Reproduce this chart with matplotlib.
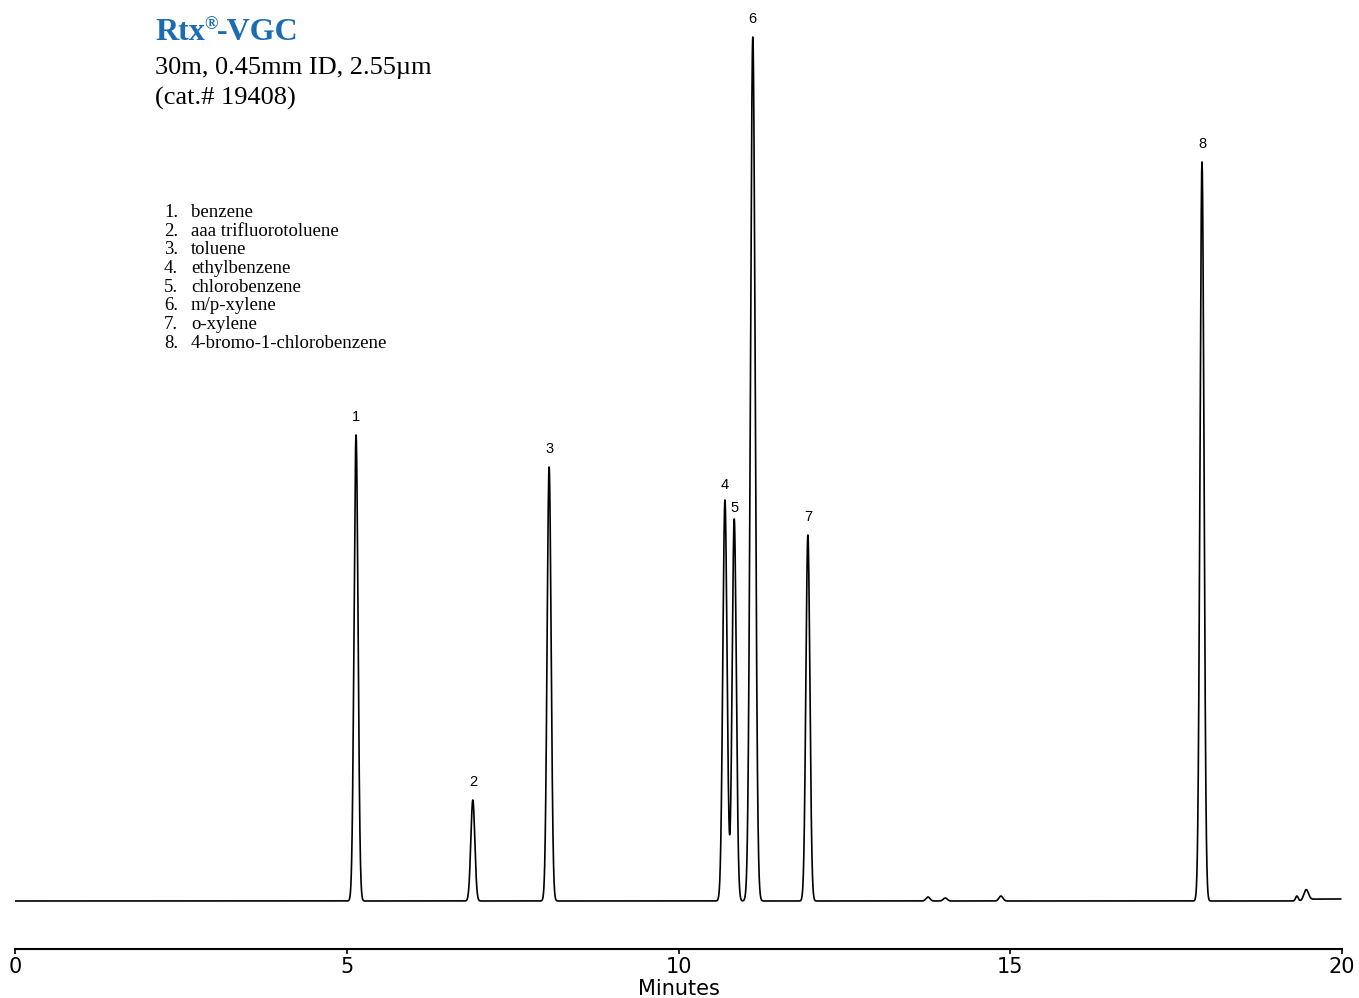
import numpy as np
import matplotlib
matplotlib.use('Agg')
from matplotlib import pyplot as plt

# peak table (retention time in min, height above baseline)
peak_ids = ['1', '2', '3', '4', '5', '6', '7', '8']
peak_rt = [5.14, 6.90, 8.05, 10.70, 10.84, 11.12, 11.95, 17.89]
peak_height = [466, 101, 434, 401, 382, 864, 366, 739]
peak_sigma = [0.030, 0.030, 0.030, 0.032, 0.031, 0.036, 0.030, 0.030]

# small unlabeled bumps
minor_rt = [13.76, 14.02, 14.86, 19.32, 19.46]
minor_height = [4, 3, 5, 5, 11]
minor_sigma = [0.03, 0.03, 0.03, 0.02, 0.035]

compounds = ['benzene', 'aaa trifluorotoluene', 'toluene', 'ethylbenzene',
             'chlorobenzene', 'm/p-xylene', 'o-xylene', '4-bromo-1-chlorobenzene']

xticks = [0, 5, 10, 15, 20]

W, H = 1359, 998
fig = plt.figure(figsize=(W / 100, H / 100), dpi=100)

# axes: x=0 at px 15, x=20 at px 1342; axis line at px 949, baseline at px 901
ax = fig.add_axes([15 / W, (H - 949) / H, (1342 - 15) / W, 949 / H])

t = np.linspace(0, 19.98, 40000)
signal = np.zeros_like(t)
for rt, h, s in zip(peak_rt + minor_rt, peak_height + minor_height, peak_sigma + minor_sigma):
    signal += h * np.exp(-0.5 * ((t - rt) / s) ** 2)
# slight baseline rise after the last bump
signal += 2.0 / (1 + np.exp(-(t - 19.5) / 0.03))

ax.plot(t, signal, color='black', lw=1.2)

label_dy = [8, 8, 8, 6, 3, 8, 8, 8]
for pid, rt, h, dy in zip(peak_ids, peak_rt, peak_height, label_dy):
    ax.annotate(pid, (rt, h), xytext=(0, dy), textcoords='offset points',
                ha='center', va='bottom', fontsize=10.5, family='Liberation Sans')

axis_font = dict(family='DejaVu Sans')

ax.set_xlim(0, 20)
ax.set_ylim(-48, 901)
for side in ['left', 'right', 'top']:
    ax.spines[side].set_visible(False)
ax.spines['bottom'].set_linewidth(1.5)
ax.set_yticks([])
ax.set_xticks(xticks)
ax.set_xticklabels([str(v) for v in xticks], fontsize=15, **axis_font)
ax.tick_params(axis='x', direction='out', length=3.5, width=1.2, pad=2)
ax.set_xlabel('Minutes', fontsize=15, labelpad=2, **axis_font)

def px(x, y):
    return x / W, 1 - y / H

serif = 'Liberation Serif'
blue = '#1b6cb0'
fig.text(*px(155, 40), 'Rtx', color=blue, fontsize=23, fontweight='bold',
         family=serif, va='baseline')
fig.text(*px(204, 29), '\u00ae', color=blue, fontsize=13, fontweight='bold',
         family=serif, va='baseline')
fig.text(*px(217, 40), '-VGC', color=blue, fontsize=23, fontweight='bold',
         family=serif, va='baseline')
fig.text(*px(155, 74), '30m, 0.45mm ID, 2.55\u00b5m', fontsize=19,
         family=serif, va='baseline')
fig.text(*px(155, 105), '(cat.# 19408)', fontsize=19,
         family=serif, va='baseline')

for i, name in enumerate(compounds):
    yb = 217 + i * 18.7
    fig.text(*px(164, yb), f'{i + 1}.', fontsize=13.5, family=serif,
             va='baseline')
    fig.text(*px(191, yb), name, fontsize=13.5, family=serif,
             va='baseline')

fig.savefig('out.png', dpi=100)
